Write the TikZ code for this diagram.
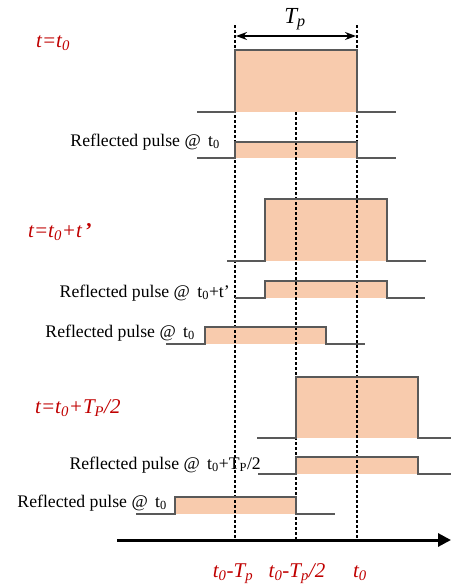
\documentclass[tikz,border=0pt]{standalone}
\usepackage{fontspec}
\setmainfont{Liberation Serif}
\usetikzlibrary{arrows.meta}
\definecolor{pfill}{HTML}{F8CBAD}
\definecolor{pline}{HTML}{595959}
\definecolor{lred}{HTML}{C00000}
\newcommand\sbs[1]{\textsubscript{#1}}
\begin{document}
\begin{tikzpicture}[x=1pt,y=-1pt,
  pulsefill/.style={fill=pfill},
  pulseline/.style={draw=pline, line width=2.6pt, line join=miter},
  guide/.style={black, line width=1.2pt, dash pattern=on 3pt off 2pt},
  reflabel/.style={anchor=base east, font=\fontsize{17.7}{20}\selectfont, inner sep=0pt},
  timelabel/.style={anchor=base west, text=lred, font=\fontsize{21}{24}\selectfont\itshape, inner sep=0pt},
  axislabel/.style={anchor=base, text=lred, font=\fontsize{21}{24}\selectfont\itshape, inner sep=0pt}]
\useasboundingbox (0,0) rectangle (451,584);
% fills
\fill[pulsefill] (235,50) rectangle (357,112);
\fill[pulsefill] (235,142) rectangle (357,158);
\fill[pulsefill] (265,199) rectangle (387,261);
\fill[pulsefill] (265,281) rectangle (387,298);
\fill[pulsefill] (205,327) rectangle (326,344);
\fill[pulsefill] (296,377) rectangle (418,438);
\fill[pulsefill] (296,457) rectangle (418,474);
\fill[pulsefill] (175,497) rectangle (296,514);
% guides
\coordinate (gA1) at (235,25); \coordinate (gA2) at (235,540);
\coordinate (gB1) at (296,112); \coordinate (gB2) at (296,540);
\coordinate (gC1) at (357,25); \coordinate (gC2) at (357,540);
\draw[guide] (gA1) -- (gA2);
\draw[guide] (gB1) -- (gB2);
\draw[guide] (gC1) -- (gC2);
% outlines
\draw[pulseline] (197,112) -- (235,112) -- (235,50) -- (357,50) -- (357,112) -- (396,112);
\draw[pulseline] (197,158) -- (235,158) -- (235,142) -- (357,142) -- (357,158) -- (396,158);
\draw[pulseline] (227,261) -- (265,261) -- (265,199) -- (387,199) -- (387,261) -- (426,261);
\draw[pulseline] (235,298) -- (265,298) -- (265,281) -- (387,281) -- (387,298) -- (425,298);
\draw[pulseline] (166,344) -- (205,344) -- (205,327) -- (326,327) -- (326,344) -- (365,344);
\draw[pulseline] (257,438) -- (296,438) -- (296,377) -- (418,377) -- (418,438) -- (451,438);
\draw[pulseline] (258,474) -- (296,474) -- (296,457) -- (418,457) -- (418,474) -- (451,474);
\draw[pulseline] (136,514) -- (175,514) -- (175,497) -- (296,497) -- (296,514) -- (335,514);
% Tp arrow
\coordinate (tpL) at (236,36); \coordinate (tpR) at (356,36);
\draw[line width=1.5pt, {Stealth[length=11pt,width=8pt]}-{Stealth[length=11pt,width=8pt]}] (tpL) -- (tpR);
\node[anchor=base, inner sep=0pt, font=\fontsize{23}{24}\selectfont\itshape] (tp) at (295,23) {T\sbs{p}};
% axis
\coordinate (axL) at (117,540); \coordinate (axR) at (451,540);
\draw[line width=3pt, -{Triangle[length=13pt,width=13pt]}] (axL) -- (axR);
% labels
\node[timelabel] (l1) at (36,47) {t=t\sbs{0}};
\node[timelabel] (l2) at (28,237) {t=t\sbs{0}+t\,\textup{\textbf{’}}};
\node[timelabel] (l3) at (35,413) {t=t\sbs{0}+T\sbs{P}/2};
\node[reflabel] (r1) at (220,146) {Reflected pulse @\, t\sbs{0}};
\node[reflabel] (r2) at (230,297) {Reflected pulse @\, t\sbs{0}+t’};
\node[reflabel] (r3) at (195,337) {Reflected pulse @\, t\sbs{0}};
\node[reflabel] (r4) at (261,469) {Reflected pulse @\, t\sbs{0}+T\sbs{P}/2};
\node[reflabel] (r5) at (167,507) {Reflected pulse @\, t\sbs{0}};
\node[axislabel] (a1) at (233,577) {t\sbs{0}-T\sbs{p}};
\node[axislabel] (a2) at (297,577) {t\sbs{0}-T\sbs{p}/2};
\node[axislabel] (a3) at (360,577) {t\sbs{0}};
\end{tikzpicture}
\end{document}
